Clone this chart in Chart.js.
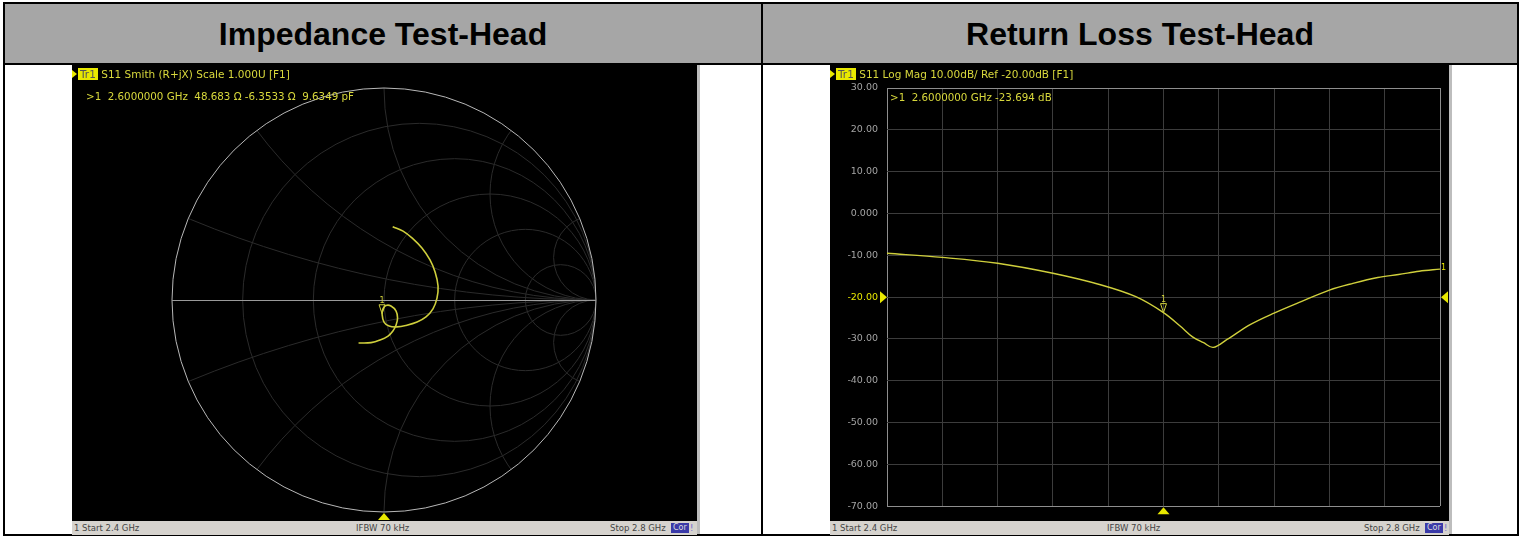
<!DOCTYPE html>
<html>
<head>
<meta charset="utf-8">
<script src="https://cdn.jsdelivr.net/npm/chart.js@4/dist/chart.umd.min.js"></script>
<style>
  html,body{margin:0;padding:0;background:#fff;}
  body{width:1521px;height:536px;position:relative;overflow:hidden;font-family:"DejaVu Sans",sans-serif;}
  .blk{position:absolute;background:#000;}
  .hdrfill{position:absolute;left:5px;top:4px;width:1512px;height:59px;background:#a6a6a6;}
  .hdr{position:absolute;top:4px;height:59px;line-height:60px;text-align:center;font-family:"Liberation Sans",Arial,sans-serif;font-weight:bold;font-size:32px;color:#000;}
  .screen{position:absolute;background:#000;}
  .strip{position:absolute;background:#bdbdbd;}
  .status{position:absolute;height:14px;background:#d6d3ce;font-size:8.5px;line-height:14px;color:#444;}
  .status span{position:absolute;top:0;}
  .cor{position:absolute;top:2px;height:10px;line-height:10px;background:#3a3aa8;color:#ddd;font-size:8px;padding:0 2px;}
  .trh{position:absolute;font-size:10.5px;color:#d8d83c;white-space:pre;line-height:12px;}
  .trh b{font-weight:normal;background:#e8e800;color:#555;padding:0 2px;}
  .tri{display:inline-block;width:0;height:0;border-top:4px solid transparent;border-bottom:4px solid transparent;border-left:5px solid #e8e800;margin-right:1px;vertical-align:0px;}
  .rd{position:absolute;font-size:10.3px;color:#d8d83c;white-space:pre;line-height:12px;}
  canvas{position:absolute;}
</style>
</head>
<body>
<!-- table frame -->
<div class="hdrfill"></div>
<div class="blk" style="left:3px;top:2px;width:1516px;height:2px;"></div>
<div class="blk" style="left:3px;top:63px;width:1516px;height:2px;"></div>
<div class="blk" style="left:3px;top:534px;width:1516px;height:2px;"></div>
<div class="blk" style="left:3px;top:2px;width:2px;height:534px;"></div>
<div class="blk" style="left:1517px;top:2px;width:2px;height:534px;"></div>
<div class="blk" style="left:761px;top:2px;width:2px;height:534px;"></div>
<div class="hdr" style="left:5px;width:756px;">Impedance Test-Head</div>
<div class="hdr" style="left:763px;width:754px;">Return Loss Test-Head</div>

<!-- left screen -->
<div class="screen" style="left:72px;top:65px;width:625px;height:456px;"></div>
<div class="strip" style="left:697px;top:65px;width:3px;height:469px;"></div>
<canvas id="smith" width="625" height="456" style="left:72px;top:65px;"></canvas>
<div class="trh" style="left:72px;top:68px;"><span class="tri"></span><b>Tr1</b> S11 Smith (R+jX) Scale 1.000U [F1]</div>
<div class="rd" style="left:86px;top:90px;">&gt;1  2.6000000 GHz  48.683 Ω -6.3533 Ω  9.6349 pF</div>
<div class="status" style="left:72px;top:521px;width:625px;">
  <span style="left:2px;">1  Start 2.4 GHz</span>
  <span style="left:284px;">IFBW 70 kHz</span>
  <span style="left:538px;">Stop 2.8 GHz</span>
  <div class="cor" style="left:599px;">Cor</div>
  <span style="left:618px;color:#6a6ad0;">!</span>
</div>

<!-- right screen -->
<div class="screen" style="left:830px;top:65px;width:619px;height:456px;"></div>
<div class="strip" style="left:1449px;top:65px;width:3px;height:469px;"></div>
<canvas id="rl" width="619" height="456" style="left:830px;top:65px;"></canvas>
<div class="trh" style="left:830px;top:68px;"><span class="tri"></span><b>Tr1</b> S11 Log Mag 10.00dB/ Ref -20.00dB [F1]</div>
<div class="rd" style="left:890px;top:91px;">&gt;1  2.6000000 GHz -23.694 dB</div>
<div class="status" style="left:830px;top:521px;width:619px;">
  <span style="left:2px;">1  Start 2.4 GHz</span>
  <span style="left:277px;">IFBW 70 kHz</span>
  <span style="left:534px;">Stop 2.8 GHz</span>
  <div class="cor" style="left:595px;">Cor</div>
  <span style="left:614px;color:#6a6ad0;">!</span>
</div>

<script>
// ---------- data ----------
// Smith chart trace, reflection coefficient (real, imag), 2.4 -> 2.8 GHz
const smithRe = [0.041, 0.090, 0.137, 0.179, 0.217, 0.241, 0.255, 0.250, 0.231, 0.198, 0.156, 0.104, 0.061, 0.024, 0.000, -0.009, -0.005, 0.009, 0.033, 0.057, 0.064, 0.057, 0.042, 0.019, -0.019, -0.061, -0.120];
const smithIm = [0.346, 0.325, 0.288, 0.245, 0.189, 0.132, 0.066, 0.009, -0.042, -0.080, -0.104, -0.120, -0.127, -0.123, -0.104, -0.066, -0.042, -0.026, -0.028, -0.052, -0.085, -0.118, -0.146, -0.170, -0.189, -0.201, -0.203];
const smithMarker = {re: -0.009, im: -0.065};

// Return loss trace
const freqGHz = [2.400, 2.440, 2.480, 2.520, 2.555, 2.580, 2.600, 2.612, 2.621, 2.629, 2.636, 2.646, 2.663, 2.680, 2.700, 2.720, 2.737, 2.755, 2.770, 2.785, 2.800];
const s11dB   = [-9.5, -10.5, -11.9, -14.3, -17.1, -19.9, -23.7, -26.9, -29.5, -30.9, -32.0, -30.1, -26.5, -23.8, -21.0, -18.3, -16.7, -15.3, -14.6, -13.8, -13.3];
const markerFreq = 2.6, markerDb = -23.694;
const refLevel = -20;

const yTickValues = [30, 20, 10, 0, -10, -20, -30, -40, -50, -60, -70];
const yTickLabels = ['30.00', '20.00', '10.00', '0.000', '-10.00', '-20.00', '-30.00', '-40.00', '-50.00', '-60.00', '-70.00'];

// Smith grid (constant resistance / reactance)
const rCircles = [0.2, 0.5, 1, 2, 5];
const xArcs = [0.2, 0.5, 1, 2, 5];

const TRACE = '#cfcf3c';
const YEL = '#e8e800';

function tri(ctx, pts, fill) {
  ctx.beginPath(); ctx.moveTo(pts[0][0], pts[0][1]);
  for (let i = 1; i < pts.length; i++) ctx.lineTo(pts[i][0], pts[i][1]);
  ctx.closePath();
  if (fill) { ctx.fillStyle = YEL; ctx.fill(); } else { ctx.strokeStyle = TRACE; ctx.lineWidth = 1; ctx.stroke(); }
}

// ---------- Smith chart ----------
const smithGrid = {
  id: 'smithGrid',
  beforeDatasetsDraw(chart) {
    const {ctx, scales: {x, y}} = chart;
    const cx = x.getPixelForValue(0), cy = y.getPixelForValue(0);
    const R = x.getPixelForValue(1) - cx;
    const P = (u, v) => [x.getPixelForValue(u), y.getPixelForValue(v)];
    ctx.save();
    ctx.beginPath(); ctx.arc(cx, cy, R, 0, 2 * Math.PI); ctx.clip();
    ctx.strokeStyle = '#2b2b2b'; ctx.lineWidth = 1;
    for (const r of rCircles) {
      const [px, py] = P(r / (1 + r), 0);
      ctx.beginPath(); ctx.arc(px, py, R / (1 + r), 0, 2 * Math.PI); ctx.stroke();
    }
    for (const xv of xArcs) {
      for (const s of [1, -1]) {
        const [px, py] = P(1, s / xv);
        ctx.beginPath(); ctx.arc(px, py, R / xv, 0, 2 * Math.PI); ctx.stroke();
      }
    }
    ctx.restore();
    ctx.save();
    ctx.strokeStyle = '#b8b8b8'; ctx.lineWidth = 1;
    ctx.beginPath(); ctx.arc(cx, cy, R, 0, 2 * Math.PI); ctx.stroke();
    ctx.strokeStyle = '#9a9a9a';
    ctx.beginPath(); ctx.moveTo(cx - R, cy + 0.5); ctx.lineTo(cx + R, cy + 0.5); ctx.stroke();
    ctx.restore();
  },
  afterDatasetsDraw(chart) {
    const {ctx, scales: {x, y}} = chart;
    const mx = x.getPixelForValue(smithMarker.re), my = y.getPixelForValue(smithMarker.im);
    ctx.save();
    tri(ctx, [[mx - 3, my - 9], [mx + 3, my - 9], [mx, my]], false);
    ctx.fillStyle = TRACE; ctx.font = '8px "DejaVu Sans"'; ctx.textAlign = 'center';
    ctx.fillText('1', mx, my - 11);
    const cx = x.getPixelForValue(0), by = y.getPixelForValue(-1);
    tri(ctx, [[cx - 6, by + 8], [cx + 6, by + 8], [cx, by + 1]], true);
    ctx.restore();
  }
};

new Chart(document.getElementById('smith'), {
  type: 'scatter',
  data: {
    datasets: [{
      data: smithRe.map((r, i) => ({x: r, y: smithIm[i]})),
      showLine: true, pointRadius: 0, borderColor: TRACE, borderWidth: 1.6, tension: 0.4
    }]
  },
  options: {
    responsive: false, animation: false,
    layout: {padding: {left: 100, right: 101, top: 23, bottom: 9}},
    scales: {
      x: {type: 'linear', min: -1, max: 1, display: false},
      y: {type: 'linear', min: -1, max: 1, display: false}
    },
    plugins: {legend: {display: false}, tooltip: {enabled: false}}
  },
  plugins: [smithGrid]
});

// ---------- Return loss chart ----------
const edge = (c) => c.tick && (Math.abs(c.tick.value - c.scale.min) < 1e-6 || Math.abs(c.tick.value - c.scale.max) < 1e-6);
const rlMarks = {
  id: 'rlMarks',
  afterDatasetsDraw(chart) {
    const {ctx, chartArea: a, scales: {x, y}} = chart;
    ctx.save();
    const ry = y.getPixelForValue(refLevel);
    tri(ctx, [[a.left - 7, ry - 6], [a.left - 7, ry + 6], [a.left, ry]], true);
    tri(ctx, [[a.right + 8, ry - 6], [a.right + 8, ry + 6], [a.right + 1, ry]], true);
    const mx = x.getPixelForValue(markerFreq), my = y.getPixelForValue(markerDb);
    tri(ctx, [[mx - 3, my - 9], [mx + 3, my - 9], [mx, my]], false);
    ctx.fillStyle = TRACE; ctx.font = '8px "DejaVu Sans"'; ctx.textAlign = 'center';
    ctx.fillText('1', mx, my - 11);
    tri(ctx, [[mx - 6, a.bottom + 8], [mx + 6, a.bottom + 8], [mx, a.bottom + 1]], true);
    const ex = x.getPixelForValue(freqGHz[freqGHz.length - 1]), ey = y.getPixelForValue(s11dB[s11dB.length - 1]);
    ctx.textAlign = 'left';
    ctx.fillText('1', ex + 1, ey + 1);
    ctx.restore();
  }
};

new Chart(document.getElementById('rl'), {
  type: 'line',
  data: {
    datasets: [{
      data: freqGHz.map((f, i) => ({x: f, y: s11dB[i]})),
      pointRadius: 0, borderColor: TRACE, borderWidth: 1.4, tension: 0.35, fill: false
    }]
  },
  options: {
    responsive: false, animation: false,
    layout: {padding: {left: 0, right: 9, top: 23, bottom: 11}},
    scales: {
      x: {
        type: 'linear', min: 2.4, max: 2.8,
        ticks: {display: false, stepSize: 0.04},
        grid: {drawTicks: false, color: (c) => edge(c) ? '#8e8e8e' : '#3c3c3c', lineWidth: 1},
        border: {display: false},
        afterFit: (s) => { s.height = 0; }
      },
      y: {
        type: 'linear', min: -70, max: 30,
        afterBuildTicks: (s) => { s.ticks = yTickValues.map(v => ({value: v})); },
        afterFit: (s) => { s.width = 57; },
        ticks: {
          padding: 9,
          color: (c) => c.tick.value === refLevel ? YEL : '#a4a4a4',
          font: {family: 'DejaVu Sans', size: 9.5},
          callback: (v) => yTickLabels[yTickValues.indexOf(v)]
        },
        grid: {drawTicks: false, color: (c) => edge(c) ? '#8e8e8e' : '#3c3c3c', lineWidth: 1},
        border: {display: false}
      }
    },
    plugins: {legend: {display: false}, tooltip: {enabled: false}}
  },
  plugins: [rlMarks]
});
</script>
</body>
</html>
